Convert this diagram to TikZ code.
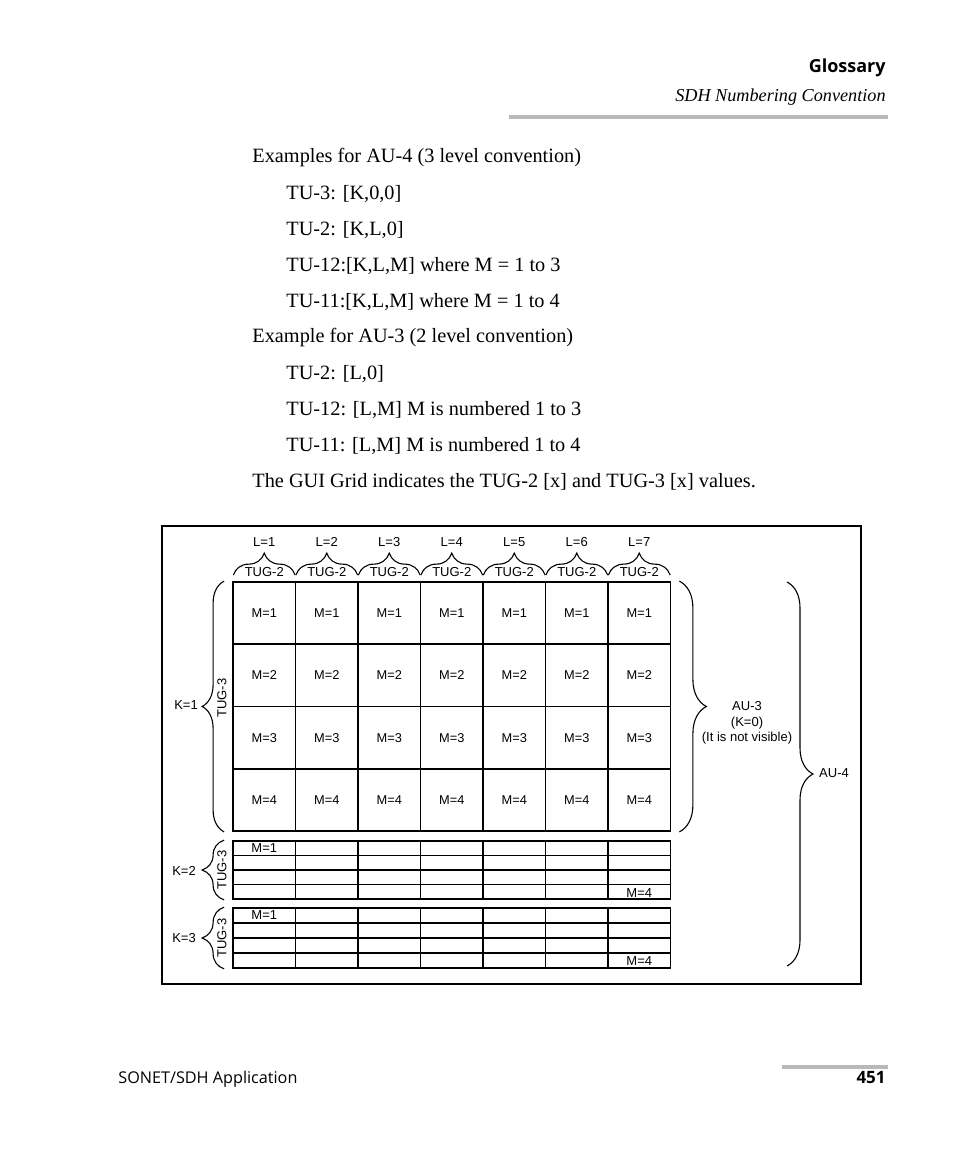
\documentclass[tikz,border=0pt]{standalone}
\usepackage{fontspec}
\setmainfont{Liberation Serif}
\newfontfamily\guifont{Liberation Sans}
\newfontfamily\pagefont{Open Sans}
\usetikzlibrary{decorations.pathreplacing}

\begin{document}
\begin{tikzpicture}[
    x=0.5pt, y=-0.5pt,
    body/.style={anchor=west, inner sep=0pt, font=\fontsize{10.15}{12}\selectfont},
    cell/.style={draw, line width=0.9pt, minimum width=31.25pt, minimum height=31.1pt,
      inner sep=0pt, font=\guifont\fontsize{6.4}{7}\selectfont},
    scell/.style={cell, minimum height=#1},
    lbl/.style={inner sep=1pt, font=\guifont\fontsize{6.5}{7.8}\selectfont},
    brc/.style={decorate, decoration={brace, amplitude=#1}, line width=0.55pt},
    rule/.style={draw=gray!55, line width=2pt}
  ]
  % page
  \fill[white] (0,0) rectangle (954,1159);
  \useasboundingbox (0,0) rectangle (954,1159);

  % header
  \node[anchor=east, inner sep=0pt, font=\pagefont\bfseries\fontsize{9}{11}\selectfont] (hd) at (886,68) {Glossary};
  \node[anchor=east, inner sep=0pt, font=\itshape\fontsize{9.1}{11}\selectfont] (sub) at (886,97) {SDH Numbering Convention};
  \draw[rule] (509,117) -- (888,117);

  % body text
  \def\xa{252}
  \def\xb{286}
  \node[body] (t1) at (\xa,158) {Examples for AU-4 (3 level convention)};
  \node[body] (t2) at (\xb,194) {TU-3: [K,0,0]};
  \node[body] (t3) at (\xb,230) {TU-2: [K,L,0]};
  \node[body] (t4) at (\xb,266) {TU-12:[K,L,M] where M = 1 to 3};
  \node[body] (t5) at (\xb,302) {TU-11:[K,L,M] where M = 1 to 4};
  \node[body] (t6) at (\xa,338) {Example for AU-3 (2 level convention)};
  \node[body] (t7) at (\xb,374) {TU-2: [L,0]};
  \node[body] (t8) at (\xb,410) {TU-12: [L,M] M is numbered 1 to 3};
  \node[body] (t9) at (\xb,446) {TU-11: [L,M] M is numbered 1 to 4};
  \node[body] (t10) at (\xa,482) {The GUI Grid indicates the TUG-2 [x] and TUG-3 [x] values.};

  % figure frame
  \draw[line width=1.4pt] (162,526) rectangle (861,984);

  % K=1 grid (7 x 4)
  \foreach \l in {1,...,7}
    \foreach \m in {1,...,4}
      \node[cell] (a\l\m) at ({233+(\l-0.5)*62.5},{582+(\m-0.5)*62.25}) {M=\m};

  % K=2 and K=3 grids
  \foreach \l in {1,...,7}
    \foreach \m in {1,...,4} {
      \node[scell=7.25pt] (b\l\m) at ({233+(\l-0.5)*62.5},{841+(\m-0.5)*14.5}) {};
      \node[scell=7.5pt] (c\l\m) at ({233+(\l-0.5)*62.5},{908+(\m-0.5)*15}) {};
    }
  \node[lbl] (mb1) at (b11) {M=1};
  \node[lbl] (mb4) at ([yshift=-0.5pt]b74) {M=4};
  \node[lbl] (mc1) at (c11) {M=1};
  \node[lbl] (mc4) at ([yshift=-0.5pt]c74) {M=4};

  % TUG-2 / L
  \foreach \l in {1,...,7} {
    \draw[brc=11pt] ([xshift=0.6pt,yshift=3pt]a\l1.north west) -- ([xshift=-0.6pt,yshift=3pt]a\l1.north east);
    \node[lbl] (L\l) at ({233+(\l-0.5)*62.5},542) {L=\l};
    \node[lbl] (tg\l) at ({233+(\l-0.5)*62.5},572) {TUG-2};
  }

  % TUG-3 / K
  \draw[brc=11pt] ([xshift=-4pt]a14.south west) -- ([xshift=-4pt]a11.north west);
  \draw[brc=11pt] ([xshift=-4pt]b14.south west) -- ([xshift=-4pt]b11.north west);
  \draw[brc=11pt] ([xshift=-4pt]c14.south west) -- ([xshift=-4pt]c11.north west);
  \node[lbl, rotate=90] (g1) at (222,698) {TUG-3};
  \node[lbl, rotate=90] (g2) at (222,870) {TUG-3};
  \node[lbl, rotate=90] (g3) at (222,938) {TUG-3};
  \node[lbl] (k1) at (186,705) {K=1};
  \node[lbl] (k2) at (184,871) {K=2};
  \node[lbl] (k3) at (184,938) {K=3};

  % AU-3 / AU-4
  \draw[brc=13.5pt] ([xshift=4pt]a71.north east) -- ([xshift=4pt]a74.south east);
  \node[lbl, align=center] (au3) at (747,723) {AU-3\\(K=0)\\(It is not visible)};
  \draw[brc=13pt] (787,582) -- (787,966);
  \node[lbl] (au4) at (834,773) {AU-4};

  % footer
  \draw[rule] (782,1067) -- (888,1067);
  \node[anchor=west, inner sep=0pt, font=\pagefont\fontsize{8.1}{10}\selectfont] (ft) at (118,1079) {SONET/SDH Application};
  \node[anchor=east, inner sep=0pt, font=\pagefont\bfseries\fontsize{8.5}{10}\selectfont] (pg) at (886,1078) {451};
\end{tikzpicture}
\end{document}
